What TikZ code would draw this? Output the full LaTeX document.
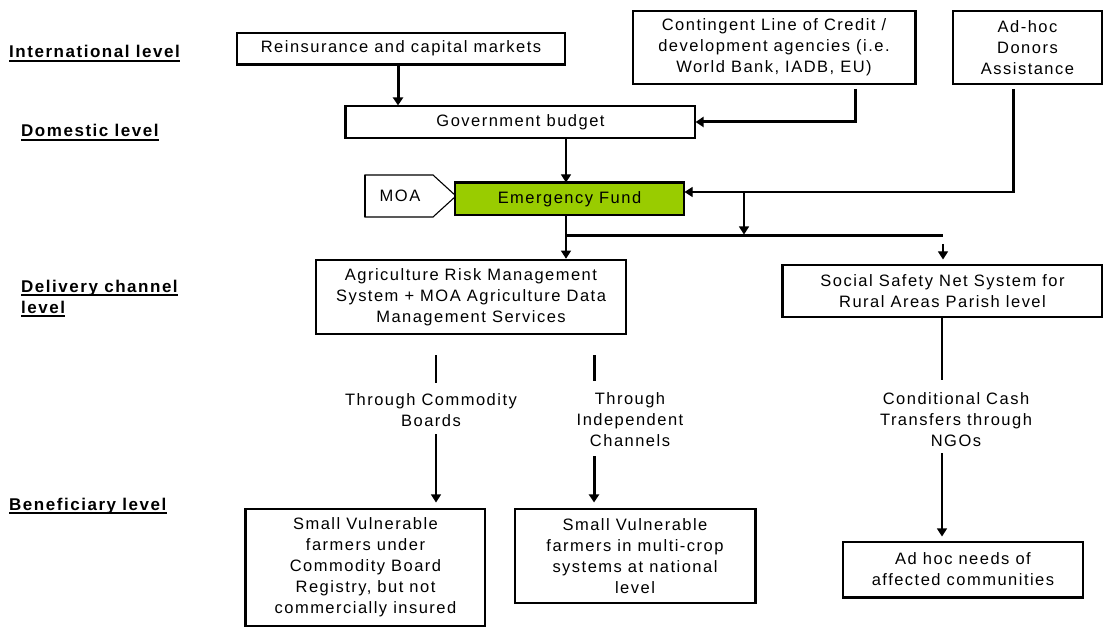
\documentclass[tikz,border=0pt]{standalone}
\usepackage{fontspec}
\setmainfont{Liberation Sans}[LetterSpace=9]
\usetikzlibrary{arrows.meta,calc}
\definecolor{efgreen}{HTML}{99CC00}

\begin{document}
\begin{tikzpicture}[x=1pt,y=-1pt,
  every node/.style={font=\fontsize{16.5}{21}\selectfont, inner sep=0pt},
  box/.style={draw, line width=1.1pt, fill=white, align=center},
  boldln/.style={line width=3pt},
  slim/.style={line width=1.1pt},
  edgeline/.style={line width=2.4pt},
  tip/.style={-{Triangle[length=8pt,width=10pt]}},
  lvl/.style={anchor=base west, font=\bfseries\fontsize{17}{21}\selectfont},
  ul/.style={line width=2.2pt},
  chan/.style={align=center},
]
\useasboundingbox (0,0) rectangle (1105,628);

% level captions on the left
\node[lvl] (lint)  at (9,58)   {International level};
\node[lvl] (ldom)  at (21,137) {Domestic level};
\node[lvl] (ldel1) at (21,292) {Delivery channel};
\node[lvl] (ldel2) at (21,313) {level};
\node[lvl] (lben)  at (9,510)  {Beneficiary level};
\foreach \n in {lint,ldom,ldel1,ldel2,lben}
  \draw[ul] ([yshift=-3pt]\n.base west) -- ([yshift=-3pt]\n.base east);

% funding sources
\node[box, minimum width=328pt, minimum height=31pt] (reins) at (401,48.5)
  {Reinsurance and capital markets};
\node[box, minimum width=282pt, minimum height=73pt] (contin) at (774,47.5)
  {Contingent Line of Credit /\\development agencies (i.e.\\World Bank, IADB, EU)};
\node[box, minimum width=149pt, minimum height=73pt] (adhoc) at (1027.5,47.5)
  {Ad-hoc\\Donors\\Assistance};

% domestic level
\node[box, minimum width=349pt, minimum height=32pt] (gov) at (520.5,122)
  {Government budget};
\draw[box, line width=1.1pt] (365,175) -- (433,175) -- (456,196) -- (433,217) -- (365,217) -- cycle;
\draw[edgeline] (365,175) -- (365,217);
\node (moa) at (400,196) {MOA};
\node[box, fill=efgreen, minimum width=229pt, minimum height=32pt] (ef) at (569.5,199)
  {Emergency Fund};

% delivery channels
\node[box, line width=2.6pt, minimum width=310pt, minimum height=74pt] (agri) at (471,297)
  {Agriculture Risk Management\\System + MOA Agriculture Data\\Management Services};
\node[box, minimum width=319pt, minimum height=52pt] (social) at (942.5,291)
  {Social Safety Net System for\\Rural Areas Parish level};

% beneficiaries
\node[box, minimum width=239pt, minimum height=117pt] (ben1) at (365.5,567.5)
  {Small Vulnerable\\farmers under\\Commodity Board\\Registry, but not\\commercially insured};
\node[box, minimum width=240pt, minimum height=94pt] (ben2) at (635,556)
  {Small Vulnerable\\farmers in multi-crop\\systems at national\\level};
\node[box, minimum width=240pt, minimum height=55pt] (ben3) at (963,569.5)
  {Ad hoc needs of\\affected communities};

% heavier box edges
\draw[edgeline] (reins.south west) -- (reins.south east);
\draw[edgeline] (contin.north east) -- (contin.south east);
\draw[edgeline] (gov.north west) -- (gov.south west);
\draw[edgeline] (ef.north west) -- (ef.north east);
\draw[edgeline] (social.north west) -- (social.south west);
\draw[edgeline] (ben1.north west) -- (ben1.south west);
\draw[edgeline] (ben2.north east) -- (ben2.south east);
\draw[edgeline] (ben3.south west) -- (ben3.south east);

% flows into the government budget
\coordinate (rdrop) at (398,64);
\coordinate (cdrop) at (855,89);
\draw[boldln, tip] (rdrop) -- (rdrop |- gov.north);
\draw[boldln, tip] (cdrop) |- (gov.east);

% flows into the emergency fund
\coordinate (adtop)  at (1013,89);
\coordinate (adturn) at (1013,192);
\coordinate (brtop)  at (744,192);
\coordinate (trunk)  at (566,0);
\draw[boldln] (adtop) -- ([yshift=-1.4pt]adturn);
\draw[slim, tip] (adturn) -- (adturn -| ef.east);
\draw[slim, tip] (trunk |- gov.south) -- (trunk |- ef.north);

% distribution bus
\coordinate (busL) at (566,236);
\coordinate (busR) at (943,236);
\coordinate (sdrop) at (943,244);
\draw[boldln] (busL) -- (busR);
\draw[slim, tip, shorten >=1.5pt] (brtop) -- (brtop |- busL);
\draw[slim, tip] (trunk |- ef.south) -- (trunk |- agri.north);
\draw[slim, tip, shorten >=5pt] (sdrop) -- (sdrop |- social.north);

% channels to beneficiaries
\coordinate (c1) at (436,355);
\coordinate (c1b) at (436,434);
\draw[slim] (c1) -- ++(0,28);
\node[chan] (cbl) at (431,410) {Through Commodity\\Boards};
\draw[slim, tip, shorten >=6pt] (c1b) -- (c1b |- ben1.north);

\coordinate (c2) at (594,355);
\coordinate (c2b) at (594,456);
\draw[boldln] (c2) -- ++(0,26);
\node[chan] (icl) at (630,419.5) {Through\\Independent\\Channels};
\draw[boldln, tip, shorten >=6pt] (c2b) -- (c2b |- ben2.north);

\coordinate (c3) at (942,380);
\coordinate (c3b) at (942,453);
\draw[slim] (social.south -| c3) -- (c3);
\node[chan] (ccl) at (956,419.5) {Conditional Cash\\Transfers through\\NGOs};
\draw[slim, tip, shorten >=5pt] (c3b) -- (c3b |- ben3.north);
\end{tikzpicture}
\end{document}
